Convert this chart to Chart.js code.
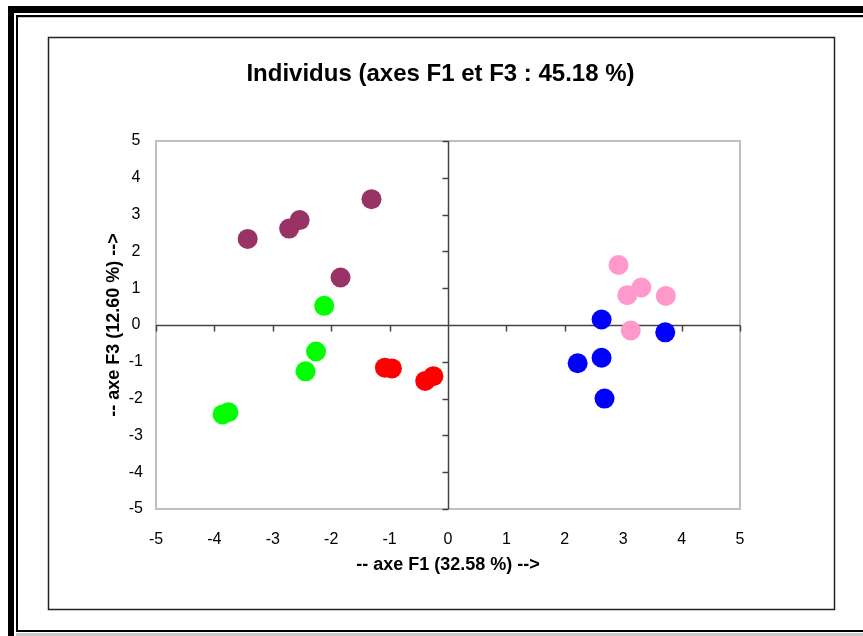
<!DOCTYPE html>
<html>
<head>
<meta charset="utf-8">
<script src="https://cdn.jsdelivr.net/npm/chart.js@4"></script>
<style>
  html, body { margin: 0; padding: 0; background: #ffffff; }
  #wrap { width: 863px; height: 636px; position: relative; }
</style>
</head>
<body>
<div id="wrap"><canvas id="c" width="863" height="636"></canvas></div>
<script>
// ---- data ----
const chartTitle = "Individus (axes F1 et F3 : 45.18 %)";
const xAxisTitle = "-- axe F1 (32.58 %) -->";
const yAxisTitle = "-- axe F3 (12.60 %) -->";
const xTicks = [-5, -4, -3, -2, -1, 0, 1, 2, 3, 4, 5];
const yTicks = [-5, -4, -3, -2, -1, 0, 1, 2, 3, 4, 5];

const maroonX = [-3.43, -2.72, -2.54, -1.31, -1.84];
const maroonY = [2.34, 2.62, 2.85, 3.42, 1.29];
const greenX = [-2.12, -2.26, -2.44, -3.86, -3.76];
const greenY = [0.52, -0.72, -1.26, -2.43, -2.37];
const redX = [-1.08, -0.96, -0.39, -0.25];
const redY = [-1.16, -1.18, -1.52, -1.39];
const pinkX = [2.92, 3.07, 3.31, 3.73, 3.13];
const pinkY = [1.63, 0.81, 1.02, 0.79, -0.15];
const blueX = [2.63, 3.72, 2.22, 2.63, 2.68];
const blueY = [0.15, -0.20, -1.04, -0.89, -2.00];

const toPts = (xs, ys) => xs.map((x, i) => ({ x: x, y: ys[i] }));

const FONT = "'Liberation Sans', Arial, sans-serif";

function series(xs, ys, color) {
  return {
    data: toPts(xs, ys),
    backgroundColor: color,
    borderColor: color,
    borderWidth: 0,
    pointRadius: 10,
    pointHoverRadius: 10
  };
}

const decor = {
  id: 'decor',
  beforeDraw(chart) {
    const ctx = chart.ctx;
    ctx.save();
    ctx.fillStyle = '#ffffff';
    ctx.fillRect(0, 0, chart.width, chart.height);
    // outer double frame
    ctx.fillStyle = '#000000';
    ctx.fillRect(8, 6, chart.width - 8, 7);
    ctx.fillRect(8, 6, 6, chart.height - 6);
    ctx.fillRect(16, 15, chart.width - 16, 2);
    ctx.fillRect(16, 15, 2, 617);
    ctx.fillRect(16, 630, chart.width - 16, 2);
    ctx.fillStyle = '#c8c8c8';
    ctx.fillRect(18, 17, chart.width - 18, 1);
    ctx.fillRect(16, 633, chart.width - 16, 3);
    // inner chart frame
    ctx.strokeStyle = '#222222';
    ctx.lineWidth = 1.5;
    ctx.strokeRect(48.5, 37.5, 786, 572);
    ctx.restore();
  },
  beforeDatasetsDraw(chart) {
    const ctx = chart.ctx;
    const a = chart.chartArea;
    const xs = chart.scales.x, ys = chart.scales.y;
    ctx.save();
    // plot area border
    ctx.strokeStyle = '#c0c0c0';
    ctx.lineWidth = 2;
    ctx.strokeRect(a.left, a.top, a.right - a.left, a.bottom - a.top);
    // zero axes
    const x0 = Math.round(xs.getPixelForValue(0)) + 0.5;
    const y0 = Math.round(ys.getPixelForValue(0)) + 0.5;
    ctx.strokeStyle = '#444444';
    ctx.lineWidth = 1.5;
    ctx.beginPath();
    ctx.moveTo(a.left, y0); ctx.lineTo(a.right, y0);
    ctx.moveTo(x0, a.top); ctx.lineTo(x0, a.bottom);
    xTicks.forEach(v => {
      const p = Math.round(xs.getPixelForValue(v)) + 0.5;
      ctx.moveTo(p, y0); ctx.lineTo(p, y0 + 6);
    });
    yTicks.forEach(v => {
      const p = Math.round(ys.getPixelForValue(v)) + 0.5;
      ctx.moveTo(x0 - 6, p); ctx.lineTo(x0, p);
    });
    ctx.stroke();
    ctx.restore();
  }
};

Chart.defaults.font.family = FONT;
Chart.defaults.color = '#000000';

new Chart(document.getElementById('c'), {
  type: 'scatter',
  data: {
    datasets: [
      series(maroonX, maroonY, '#993366'),
      series(greenX, greenY, '#00FF00'),
      series(redX, redY, '#FF0000'),
      series(pinkX, pinkY, '#FF99CC'),
      series(blueX, blueY, '#0000FF')
    ]
  },
  options: {
    responsive: false,
    animation: false,
    events: [],
    layout: { padding: { left: 90, right: 72, top: 40, bottom: 57 } },
    plugins: {
      legend: { display: false },
      tooltip: { enabled: false },
      title: {
        display: true,
        text: chartTitle,
        color: '#000000',
        font: { family: FONT, size: 24, weight: 'bold', lineHeight: 1.2 },
        padding: { top: 19.6, bottom: 52.6 }
      }
    },
    scales: {
      x: {
        type: 'linear',
        min: -5, max: 5,
        afterBuildTicks: s => { s.ticks = xTicks.map(v => ({ value: v })); },
        afterFit: s => { s.height = 70; },
        grid: { display: false, drawTicks: false },
        border: { display: false },
        ticks: { font: { family: FONT, size: 16 }, color: '#000000', padding: 21, maxRotation: 0, autoSkip: false },
        title: {
          display: true, text: xAxisTitle, color: '#000000',
          font: { family: FONT, size: 18, weight: 'bold', lineHeight: 1.2 },
          padding: { top: 0, bottom: 3 }
        }
      },
      y: {
        type: 'linear',
        min: -5, max: 5,
        afterBuildTicks: s => { s.ticks = yTicks.map(v => ({ value: v })); },
        afterFit: s => { s.width = 66; },
        grid: { display: false, drawTicks: false },
        border: { display: false },
        ticks: { font: { family: FONT, size: 16 }, color: '#000000', padding: 13, crossAlign: 'center', autoSkip: false },
        title: {
          display: true, text: yAxisTitle, color: '#000000',
          font: { family: FONT, size: 18, weight: 'bold', lineHeight: 1.2 },
          padding: { top: 13, bottom: 0 }
        }
      },
      yR: {
        type: 'linear',
        position: 'right',
        display: true,
        afterFit: s => { s.width = 51; },
        grid: { display: false, drawTicks: false },
        border: { display: false },
        ticks: { display: false },
        title: { display: false }
      }
    }
  },
  plugins: [decor]
});
</script>
</body>
</html>
